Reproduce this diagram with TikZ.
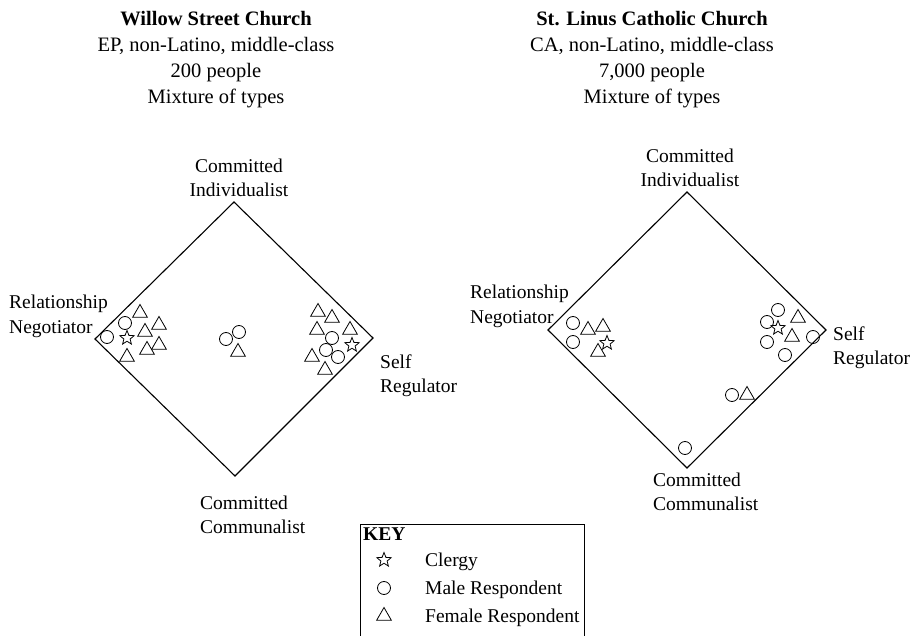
\documentclass[tikz,border=0pt]{standalone}
\usepackage{fontspec}
\setmainfont{Liberation Serif}
\usetikzlibrary{shapes.geometric}
\begin{document}
\begin{tikzpicture}[x=1pt,y=-1pt,
  edge/.style={line width=1.1pt, line join=miter},
  lbl/.style={font=\fontsize{19.5}{25}\selectfont, inner sep=0pt, anchor=base west},
  lblc/.style={font=\fontsize{19.5}{25}\selectfont, inner sep=0pt, anchor=base},
  ttl/.style={font=\fontsize{20.5}{27}\selectfont, inner sep=0pt, anchor=base},
  male/.style={circle, draw, line width=0.8pt, minimum size=13pt, inner sep=0pt},
  female/.style={regular polygon, regular polygon sides=3, draw, line width=0.8pt, minimum size=17pt, inner sep=0pt},
  clergy/.style={star, star points=5, star point ratio=2.3, draw, line width=0.8pt, minimum size=15pt, inner sep=0pt},
]
\useasboundingbox (0,0) rectangle (914,636);

% ---------- titles ----------
\node[ttl] (tA1) at (216,26) {\bfseries Willow Street Church};
\node[ttl] (tA2) at (216,52) {EP, non-Latino, middle-class};
\node[ttl] (tA3) at (216,78) {200 people};
\node[ttl] (tA4) at (216,104) {Mixture of types};

\node[ttl] (tB1) at (652,26) {\bfseries St. Linus Catholic Church};
\node[ttl] (tB2) at (652,52) {CA, non-Latino, middle-class};
\node[ttl] (tB3) at (652,78) {7,000 people};
\node[ttl] (tB4) at (652,104) {Mixture of types};

% ---------- left diamond ----------
\coordinate (aT) at (234,202);
\coordinate (aR) at (373,338);
\coordinate (aB) at (235,476);
\coordinate (aL) at (95,339);
\draw[edge] (aT) -- (aR) -- (aB) -- (aL) -- cycle;

\node[lblc] (aT1) at (239,173) {Committed};
\node[lblc] (aT2) at (239,197) {Individualist};
\node[lbl] (aL1) at (9,309) {Relationship};
\node[lbl] (aL2) at (9,334) {Negotiator};
\node[lbl] (aR1) at (380,369) {Self};
\node[lbl] (aR2) at (380,393) {Regulator};
\node[lbl] (aB1) at (200,509) {Committed};
\node[lbl] (aB2) at (200,533) {Communalist};

\foreach \p [count=\i] in {(107,337),(125,323),(226,339),(239,332),(332,338),(326,350),(338,357)}
  \node[male] (am\i) at \p {};
\foreach \p [count=\i] in {(127,338),(352,345)}
  \node[clergy] (ac\i) at \p {};
\foreach \p [count=\i] in {(140,313),(145,332),(159,325),(127,357),(147,350),(159,345),(238,352),
                          (318,312),(332,318),(317,330),(350,330),(312,357),(325,370)}
  \node[female] (af\i) at \p {};

% ---------- right diamond ----------
\coordinate (bT) at (687,192);
\coordinate (bR) at (826,330);
\coordinate (bB) at (687,468);
\coordinate (bL) at (548,330);
\draw[edge] (bT) -- (bR) -- (bB) -- (bL) -- cycle;

\node[lblc] (bT1) at (690,163) {Committed};
\node[lblc] (bT2) at (690,187) {Individualist};
\node[lbl] (bL1) at (470,299) {Relationship};
\node[lbl] (bL2) at (470,324) {Negotiator};
\node[lbl] (bR1) at (833,341) {Self};
\node[lbl] (bR2) at (833,365) {Regulator};
\node[lbl] (bB1) at (653,487) {Committed};
\node[lbl] (bB2) at (653,511) {Communalist};

\foreach \p [count=\i] in {(573,323),(573,342),(778,310),(767,322),(767,342),(785,355),(813,337),(732,395),(685,448)}
  \node[male] (bm\i) at \p {};
\foreach \p [count=\i] in {(607,343),(778,328)}
  \node[clergy] (bc\i) at \p {};
\foreach \p [count=\i] in {(588,330),(603,327),(598,352),(798,318),(792,337),(747,395)}
  \node[female] (bf\i) at \p {};

% ---------- key (open at the bottom) ----------
\draw[line width=0.8pt] (360,640) -- (360,524) -- (584,524) -- (584,640);
\node[lbl] (kTitle) at (363,540) {\bfseries KEY};
\node[clergy] (kC) at (384,560) {};
\node[male] (kM) at (384,588) {};
\node[female] (kF) at (384,616) {};
\node[lbl] (kCt) at (425,566) {Clergy};
\node[lbl] (kMt) at (425,594) {Male Respondent};
\node[lbl] (kFt) at (425,622) {Female Respondent};
\end{tikzpicture}
\end{document}
